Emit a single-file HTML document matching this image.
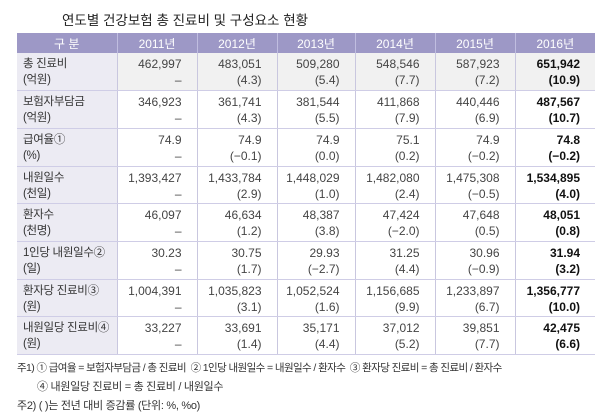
<!DOCTYPE html>
<html><head><meta charset="utf-8"><style>
body{margin:0;width:600px;height:419px;background:#fff;font-family:"Liberation Sans","Noto Sans CJK KR",sans-serif;color:#333;position:relative;overflow:hidden}
.title{position:absolute;left:62px;top:9px;font-size:13.5px;color:#222}
table{position:absolute;left:17px;top:33px;border-collapse:collapse;table-layout:fixed;font-size:12px}
td,th{padding:0;border-left:1px solid #c9c7df;box-sizing:border-box}
th{background:#9d98c6;color:#fff;font-weight:normal;height:20px;font-size:12px;border-left:1px solid #c0bde0}
tr.r td{height:37.7px;border-bottom:1.5px solid #cfcde6;vertical-align:top;overflow:hidden}
td.h{background:#ecebf3;padding-left:6px;line-height:16px;padding-top:3px;color:#333;border-left:none;white-space:nowrap;font-size:11.5px;letter-spacing:-0.3px}
td.v{text-align:right;padding-right:15px;line-height:16px;padding-top:3px;color:#444}
td.b{font-weight:bold;color:#111}
tr.g td.v{background:#f1f1f1}
.n{position:absolute;font-size:11px;color:#333;white-space:nowrap}
</style></head><body>
<div class="title">연도별 건강보험 총 진료비 및 구성요소 현황</div>
<table>
<colgroup><col style="width:100px"><col style="width:80px"><col style="width:80px"><col style="width:78px"><col style="width:80px"><col style="width:80px"><col style="width:80px"></colgroup>
<tr><th style="border-left:none">구 분</th><th>2011년</th><th>2012년</th><th>2013년</th><th>2014년</th><th>2015년</th><th>2016년</th></tr>
<tr class="r g"><td class="h">총 진료비<br>(억원)</td><td class="v">462,997<br>–</td><td class="v">483,051<br>(4.3)</td><td class="v">509,280<br>(5.4)</td><td class="v">548,546<br>(7.7)</td><td class="v">587,923<br>(7.2)</td><td class="v b">651,942<br>(10.9)</td></tr>
<tr class="r"><td class="h">보험자부담금<br>(억원)</td><td class="v">346,923<br>–</td><td class="v">361,741<br>(4.3)</td><td class="v">381,544<br>(5.5)</td><td class="v">411,868<br>(7.9)</td><td class="v">440,446<br>(6.9)</td><td class="v b">487,567<br>(10.7)</td></tr>
<tr class="r"><td class="h">급여율①<br>(%)</td><td class="v">74.9<br>–</td><td class="v">74.9<br>(−0.1)</td><td class="v">74.9<br>(0.0)</td><td class="v">75.1<br>(0.2)</td><td class="v">74.9<br>(−0.2)</td><td class="v b">74.8<br>(−0.2)</td></tr>
<tr class="r"><td class="h">내원일수<br>(천일)</td><td class="v">1,393,427<br>–</td><td class="v">1,433,784<br>(2.9)</td><td class="v">1,448,029<br>(1.0)</td><td class="v">1,482,080<br>(2.4)</td><td class="v">1,475,308<br>(−0.5)</td><td class="v b">1,534,895<br>(4.0)</td></tr>
<tr class="r"><td class="h">환자수<br>(천명)</td><td class="v">46,097<br>–</td><td class="v">46,634<br>(1.2)</td><td class="v">48,387<br>(3.8)</td><td class="v">47,424<br>(−2.0)</td><td class="v">47,648<br>(0.5)</td><td class="v b">48,051<br>(0.8)</td></tr>
<tr class="r"><td class="h">1인당 내원일수②<br>(일)</td><td class="v">30.23<br>–</td><td class="v">30.75<br>(1.7)</td><td class="v">29.93<br>(−2.7)</td><td class="v">31.25<br>(4.4)</td><td class="v">30.96<br>(−0.9)</td><td class="v b">31.94<br>(3.2)</td></tr>
<tr class="r"><td class="h">환자당 진료비③<br>(원)</td><td class="v">1,004,391<br>–</td><td class="v">1,035,823<br>(3.1)</td><td class="v">1,052,524<br>(1.6)</td><td class="v">1,156,685<br>(9.9)</td><td class="v">1,233,897<br>(6.7)</td><td class="v b">1,356,777<br>(10.0)</td></tr>
<tr class="r"><td class="h">내원일당 진료비④<br>(원)</td><td class="v">33,227<br>–</td><td class="v">33,691<br>(1.4)</td><td class="v">35,171<br>(4.4)</td><td class="v">37,012<br>(5.2)</td><td class="v">39,851<br>(7.7)</td><td class="v b">42,475<br>(6.6)</td></tr>
</table>
<div class="n" style="left:17px;top:360px;font-size:10.5px;letter-spacing:-0.6px">주1) ① 급여율 = 보험자부담금 / 총 진료비 &nbsp;② 1인당 내원일수 = 내원일수 / 환자수 &nbsp;③ 환자당 진료비 = 총 진료비 / 환자수</div>
<div class="n" style="left:37px;top:378px;letter-spacing:-0.3px">④ 내원일당 진료비 = 총 진료비 / 내원일수</div>
<div class="n" style="left:17px;top:397px;letter-spacing:-0.3px">주2) ( )는 전년 대비 증감률 (단위: %, %o)</div>
</body></html>
